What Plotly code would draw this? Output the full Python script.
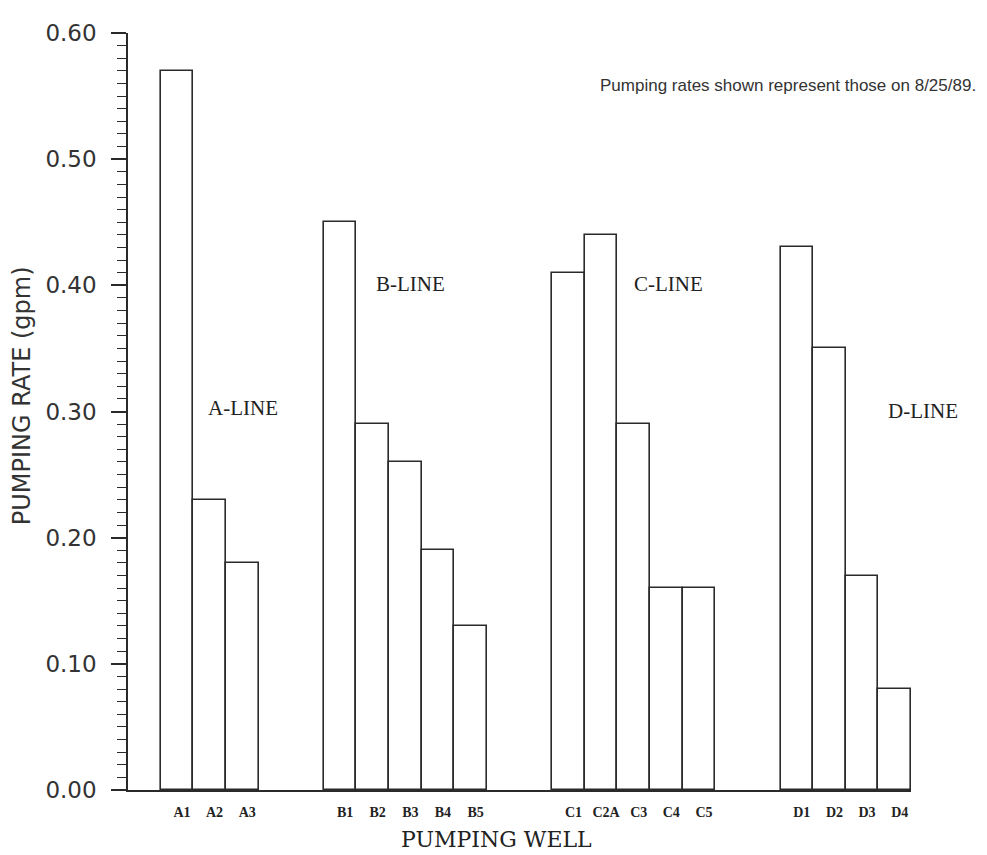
import plotly.graph_objects as go

# ---- data ----
group_names = ["A-LINE", "B-LINE", "C-LINE", "D-LINE"]
wells_A = ["A1", "A2", "A3"]
rates_A = [0.57, 0.23, 0.18]
wells_B = ["B1", "B2", "B3", "B4", "B5"]
rates_B = [0.45, 0.29, 0.26, 0.19, 0.13]
wells_C = ["C1", "C2A", "C3", "C4", "C5"]
rates_C = [0.41, 0.44, 0.29, 0.16, 0.16]
wells_D = ["D1", "D2", "D3", "D4"]
rates_D = [0.43, 0.35, 0.17, 0.08]
y_ticks = [0.0, 0.1, 0.2, 0.3, 0.4, 0.5, 0.6]

groups = [(wells_A, rates_A), (wells_B, rates_B), (wells_C, rates_C), (wells_D, rates_D)]
GAP = 2  # empty slots between groups

xs, names, vals = [], [], []
slot = 0
for wells, rates in groups:
    for w, r in zip(wells, rates):
        xs.append(slot + 0.5)
        names.append(w)
        vals.append(r)
        slot += 1
    slot += GAP
last_slot = slot - GAP

fig = go.Figure()
fig.add_trace(go.Bar(
    x=xs, y=vals, width=1.0,
    marker=dict(color="white", line=dict(color="#2a2a2a", width=1.6)),
    hoverinfo="x+y", showlegend=False,
))

W, H = 987, 855
OFF = 8  # default page body margin of the written html
# plot area in page pixels: left 128, right 911, top 23, bottom 790
ML, MT = 128 - OFF, 23 - OFF
MR = W - (911 - OFF)
MB = H - (790 - OFF)

fig.update_layout(
    width=W, height=H,
    margin=dict(l=ML, r=MR, t=MT, b=MB),
    paper_bgcolor="white", plot_bgcolor="white",
    bargap=0,
    xaxis=dict(
        range=[-1, last_slot], showgrid=False, zeroline=False,
        showline=True, linecolor="#2a2a2a", linewidth=1.6,
        tickmode="array", tickvals=xs, ticktext=names,
        ticks="", ticklabelstandoff=8, ticklabelshift=5,
        tickfont=dict(family="Liberation Serif", size=14, color="#222", weight="bold"),
    ),
    yaxis=dict(
        range=[0, 0.6], showgrid=False, zeroline=False,
        showline=True, linecolor="#2a2a2a", linewidth=1.6,
        tickmode="array", tickvals=y_ticks, tickformat=".2f",
        ticks="outside", ticklen=15, tickwidth=1.6, tickcolor="#2a2a2a",
        ticklabelstandoff=10,
        minor=dict(dtick=0.01, ticks="outside", ticklen=9, tickwidth=1.4, tickcolor="#2a2a2a"),
        tickfont=dict(family="DejaVu Sans", size=23, color="#333"),
    ),
)

pw = W - ML - MR
ph = H - MT - MB
def px_to_paper(px, py):
    fx, fy = px - OFF, py - OFF
    return (fx - ML) / pw, (H - MB - fy) / ph

def add_text(text, px, py, size, family, anchor="center", angle=0, color="#222"):
    ax, ay = px_to_paper(px, py)
    fig.add_annotation(text=text, xref="paper", yref="paper", x=ax, y=ay,
                       xanchor=anchor, yanchor="middle", textangle=angle,
                       showarrow=False, font=dict(family=family, size=size, color=color))

# axis titles
add_text("PUMPING RATE (gpm)", 22, 390, 24, "DejaVu Sans", angle=-90, color="#333")
add_text("PUMPING WELL", 496, 840, 22, "DejaVu Serif")

# group labels
label_pos = [(243, 403), (410, 277), (668, 277), (923, 406)]
for name, (lx, ly) in zip(group_names, label_pos):
    add_text(name, lx, ly, 21, "Liberation Serif")

# note
add_text("Pumping rates shown represent those on 8/25/89.", 978, 76, 17,
         "Liberation Sans", anchor="right", color="#333")

fig.write_html("out.html")
